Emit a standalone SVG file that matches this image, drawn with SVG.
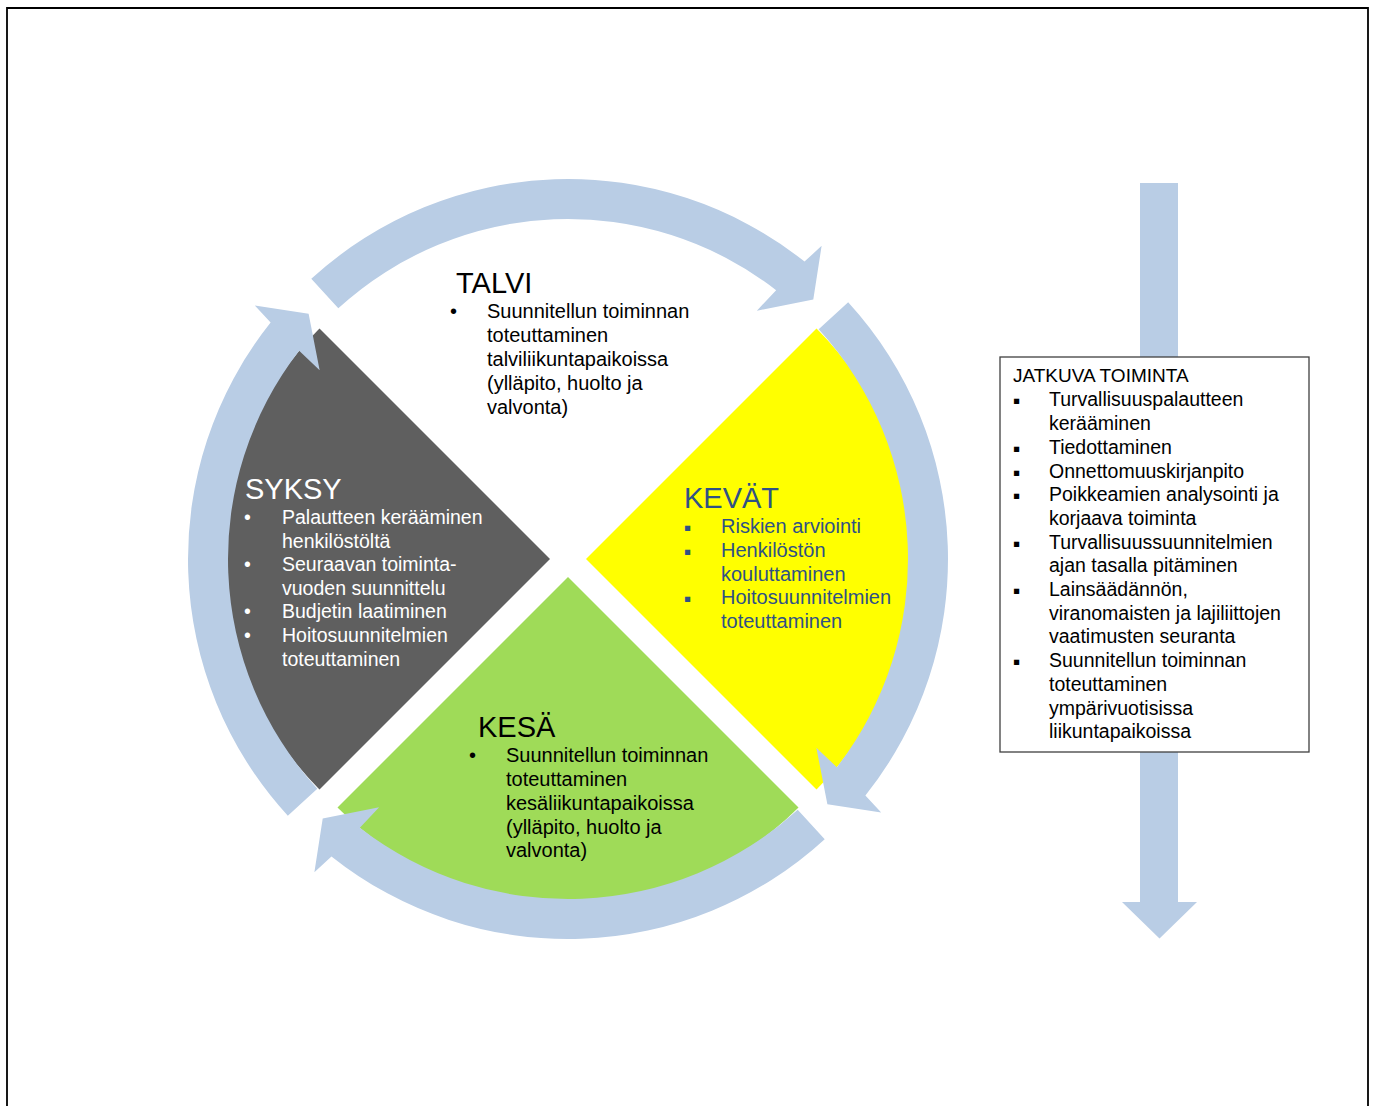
<svg xmlns="http://www.w3.org/2000/svg" xmlns:xlink="http://www.w3.org/1999/xlink" width="1375" height="1106" viewBox="0 0 1375 1106">
<style>
text{font-family:"Liberation Sans",Arial,sans-serif}
.h{font-size:29px}
.b{font-size:20px}
.s{font-size:19.5px}
.j{font-size:19.5px;fill:#000}
.blk{fill:#000}
.wht{fill:#fff}
.blu{fill:#2F5185}
.arr{fill:#B9CDE5}
.sq{font-family:"DejaVu Sans","Liberation Sans",sans-serif;font-size:10.5px}
</style>
<defs>
<path id="cyc" d="M311.28,278.83 A380,380 0 0 1 804.55,261.61 L821.62,245.81 L813.29,299.61 L756.85,310.65 L776.15,290.17 A340,340 0 0 0 338.30,308.32 Z"/>
</defs>
<rect x="0" y="0" width="1375" height="1106" fill="#fff"/>
<path d="M7,1106 V8 H1368 V1106" fill="none" stroke="#000" stroke-width="1.8"/>

<g id="talvi">
<path d="M568,541 L337.48,310.48 A326,326 0 0 1 798.52,310.48 Z" fill="#fff"/>
<text class="h blk" x="456" y="293">TALVI</text>
<text class="b blk" x="450" y="318">•</text>
<text class="b blk" x="487" y="318">Suunnitellun toiminnan</text>
<text class="b blk" x="487" y="342">toteuttaminen</text>
<text class="b blk" x="487" y="366">talviliikuntapaikoissa</text>
<text class="b blk" x="487" y="390">(ylläpito, huolto ja</text>
<text class="b blk" x="487" y="414">valvonta)</text>
</g>

<g id="syksy">
<path d="M550,559 L319.48,328.48 A326,326 0 0 0 319.48,789.52 Z" fill="#5F5F5F"/>
<text class="h wht" x="245" y="499">SYKSY</text>
<text class="s wht" x="244" y="524">•</text>
<text class="s wht" x="244" y="571">•</text>
<text class="s wht" x="244" y="618">•</text>
<text class="s wht" x="244" y="642">•</text>
<text class="s wht" x="282" y="524">Palautteen kerääminen</text>
<text class="s wht" x="282" y="548">henkilöstöltä</text>
<text class="s wht" x="282" y="571">Seuraavan toiminta-</text>
<text class="s wht" x="282" y="595">vuoden suunnittelu</text>
<text class="s wht" x="282" y="618">Budjetin laatiminen</text>
<text class="s wht" x="282" y="642">Hoitosuunnitelmien</text>
<text class="s wht" x="282" y="666">toteuttaminen</text>
</g>

<g id="kevat">
<path d="M586,559 L816.52,328.48 A326,326 0 0 1 816.52,789.52 Z" fill="#FFFF00"/>
<text class="h blu" x="684" y="508">KEVÄT</text>
<text class="sq blu" x="684" y="531">▪</text>
<text class="sq blu" x="684" y="555">▪</text>
<text class="sq blu" x="684" y="602">▪</text>
<text class="b blu" x="721" y="533">Riskien arviointi</text>
<text class="b blu" x="721" y="557">Henkilöstön</text>
<text class="b blu" x="721" y="581">kouluttaminen</text>
<text class="b blu" x="721" y="604">Hoitosuunnitelmien</text>
<text class="b blu" x="721" y="628">toteuttaminen</text>
</g>

<g id="kesa">
<path d="M568,577 L798.52,807.52 A326,326 0 0 1 337.48,807.52 Z" fill="#9FDB58"/>
<text class="h blk" x="478" y="737">KESÄ</text>
<text class="b blk" x="469" y="762">•</text>
<text class="b blk" x="506" y="762">Suunnitellun toiminnan</text>
<text class="b blk" x="506" y="786">toteuttaminen</text>
<text class="b blk" x="506" y="810">kesäliikuntapaikoissa</text>
<text class="b blk" x="506" y="834">(ylläpito, huolto ja</text>
<text class="b blk" x="506" y="857">valvonta)</text>
</g>

<g id="connectors" class="arr">
<use xlink:href="#cyc" href="#cyc"/>
<use xlink:href="#cyc" href="#cyc" transform="rotate(90 568 559)"/>
<use xlink:href="#cyc" href="#cyc" transform="rotate(180 568 559)"/>
<use xlink:href="#cyc" href="#cyc" transform="rotate(270 568 559)"/>
<path d="M1140,183 H1178 V902 H1197 L1159.5,938.5 L1122,902 H1140 Z"/>
</g>

<g id="jatkuva">
<rect x="1000" y="357" width="309" height="395" fill="#fff" stroke="#404040" stroke-width="1.3"/>
<text class="j" x="1013" y="382" style="font-size:19px">JATKUVA TOIMINTA</text>
<text class="sq blk" x="1013" y="404">▪</text>
<text class="sq blk" x="1013" y="452">▪</text>
<text class="sq blk" x="1013" y="476">▪</text>
<text class="sq blk" x="1013" y="499">▪</text>
<text class="sq blk" x="1013" y="547">▪</text>
<text class="sq blk" x="1013" y="594">▪</text>
<text class="sq blk" x="1013" y="665">▪</text>
<text class="j" x="1049" y="406">Turvallisuuspalautteen</text>
<text class="j" x="1049" y="430">kerääminen</text>
<text class="j" x="1049" y="454">Tiedottaminen</text>
<text class="j" x="1049" y="478">Onnettomuuskirjanpito</text>
<text class="j" x="1049" y="501">Poikkeamien analysointi ja</text>
<text class="j" x="1049" y="525">korjaava toiminta</text>
<text class="j" x="1049" y="549">Turvallisuussuunnitelmien</text>
<text class="j" x="1049" y="572">ajan tasalla pitäminen</text>
<text class="j" x="1049" y="596">Lainsäädännön,</text>
<text class="j" x="1049" y="620">viranomaisten ja lajiliittojen</text>
<text class="j" x="1049" y="643">vaatimusten seuranta</text>
<text class="j" x="1049" y="667">Suunnitellun toiminnan</text>
<text class="j" x="1049" y="691">toteuttaminen</text>
<text class="j" x="1049" y="715">ympärivuotisissa</text>
<text class="j" x="1049" y="738">liikuntapaikoissa</text>
</g>
</svg>
